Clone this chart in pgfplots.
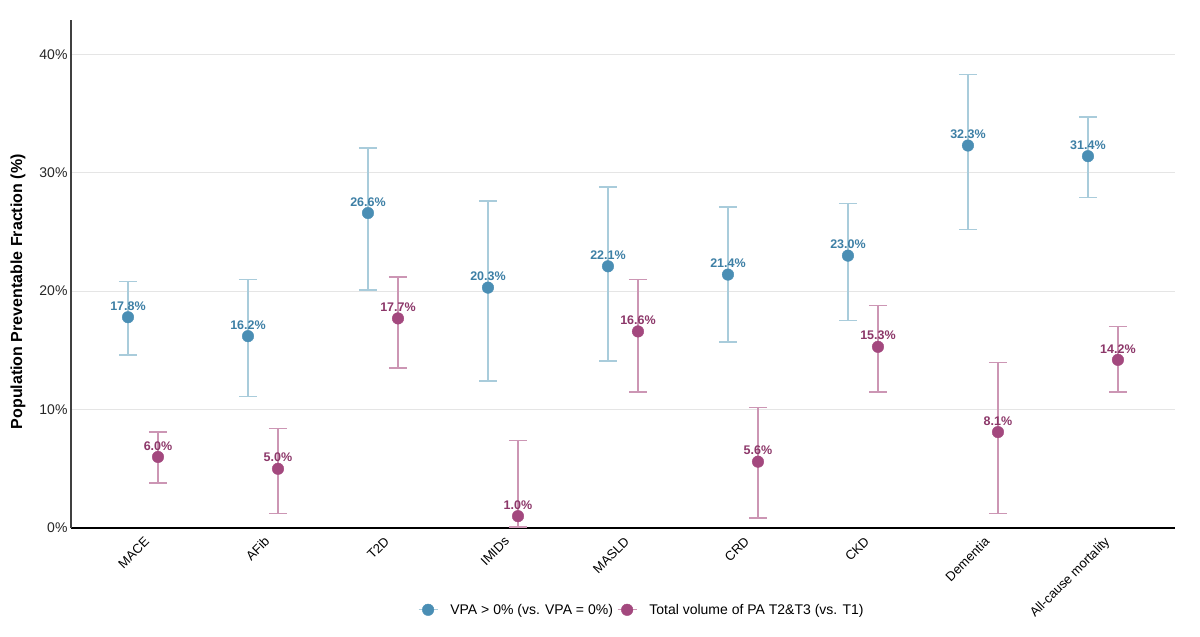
\documentclass[border=0pt]{standalone}
\usepackage{pgfplots}
\usepackage{pgfplotstable}
\pgfplotsset{compat=1.18}
\usepackage{fontspec}
\setmainfont{Liberation Sans}

\definecolor{vpa}{HTML}{4A8EB4}
\definecolor{vpabar}{HTML}{A9CCDB}
\definecolor{vpatext}{HTML}{3D7FA5}
\definecolor{tot}{HTML}{A3487E}
\definecolor{totbar}{HTML}{CC96B4}
\definecolor{tottext}{HTML}{8C3769}

% x = category index -/+ 0.125, y = PAF (%), lo/hi = 95% CI
\pgfplotstableread{
x      y     lo    hi
-0.125 17.8  14.6  20.8
0.875  16.2  11.1  21.0
1.875  26.6  20.1  32.1
2.875  20.3  12.4  27.6
3.875  22.1  14.1  28.8
4.875  21.4  15.7  27.1
5.875  23.0  17.5  27.4
6.875  32.3  25.2  38.3
7.875  31.4  27.9  34.7
}\vpatab

\pgfplotstableread{
x      y     lo    hi
0.125  6.0   3.8   8.1
1.125  5.0   1.2   8.4
2.125  17.7  13.5  21.2
3.125  1.0   0.1   7.4
4.125  16.6  11.5  21.0
5.125  5.6   0.85  10.2
6.125  15.3  11.5  18.8
7.125  8.1   1.2   14.0
8.125  14.2  11.5  17.0
}\tottab

\begin{document}
\begin{tikzpicture}
\begin{axis}[
    at={(71pt,109pt)}, anchor=south west,
    scale only axis, width=1104pt, height=508pt,
    xmin=-0.6, xmax=8.6, ymin=0, ymax=42.9,
    clip=false,
    axis x line*=bottom, axis y line*=left,
    x axis line style={draw=black, line width=1.6pt, -},
    y axis line style={draw=black!75, line width=1.6pt, -},
    major tick length=0pt,
    xtick={0,...,8},
    xticklabels={MACE,AFib,T2D,IMIDs,MASLD,CRD,CKD,Dementia,All-cause mortality},
    xticklabel style={rotate=45, anchor=north east, font=\fontsize{13}{15}\selectfont, inner sep=2pt, yshift=-4pt, xshift=-3pt},
    ytick={0,10,20,30,40},
    yticklabel={\pgfmathprintnumber{\tick}\%},
    yticklabel style={font=\fontsize{14}{16}\selectfont, text=black!85},
    /pgf/number format/assume math mode=true,
    ymajorgrids,
    grid style={draw=black!10, line width=0.8pt},
    ylabel={Population Preventable Fraction (\%)},
    every axis y label/.style={at={(rel axis cs:0,0.465)}, xshift=-53pt, rotate=90, anchor=center,
        font=\bfseries\fontsize{16}{18}\selectfont},
    legend style={at={(0.517,-0.161)}, anchor=center, draw=none,
        font=\fontsize{14}{16}\selectfont,
        /tikz/every odd column/.append style={column sep=10pt},
        /tikz/every even column/.append style={column sep=2pt}},
    legend columns=2,
    legend cell align=left,
]
\addplot[only marks, mark=*, mark size=5.8pt, mark options={draw=vpa, fill=vpa},
    legend image code/.code={
        \draw[vpabar, line width=1.4pt] (0pt,0pt) -- (19pt,0pt);
        \fill[vpa] (9.5pt,0pt) circle (5.8pt);},
    error bars/.cd, y dir=both, y explicit,
    error bar style={draw=vpabar, line width=1.4pt},
    error mark options={draw=vpabar, line width=1.4pt, mark size=9pt, rotate=90}]
    table[x=x, y=y, y error plus expr=\thisrow{hi}-\thisrow{y}, y error minus expr=\thisrow{y}-\thisrow{lo}] {\vpatab};
\addplot[only marks, mark=none, forget plot,
    nodes near coords={\pgfmathprintnumber[fixed,fixed zerofill,precision=1]{\pgfplotspointmeta}\%},
    nodes near coords style={font=\bfseries\fontsize{12.5}{14}\selectfont, text=vpatext, anchor=south, inner sep=0pt, yshift=6.5pt}]
    table[x=x, y=y] {\vpatab};

\addplot[only marks, mark=*, mark size=5.8pt, mark options={draw=tot, fill=tot},
    legend image code/.code={
        \draw[totbar, line width=1.4pt] (0pt,0pt) -- (19pt,0pt);
        \fill[tot] (9.5pt,0pt) circle (5.8pt);},
    error bars/.cd, y dir=both, y explicit,
    error bar style={draw=totbar, line width=1.4pt},
    error mark options={draw=totbar, line width=1.4pt, mark size=9pt, rotate=90}]
    table[x=x, y=y, y error plus expr=\thisrow{hi}-\thisrow{y}, y error minus expr=\thisrow{y}-\thisrow{lo}] {\tottab};
\addplot[only marks, mark=none, forget plot,
    nodes near coords={\pgfmathprintnumber[fixed,fixed zerofill,precision=1]{\pgfplotspointmeta}\%},
    nodes near coords style={font=\bfseries\fontsize{12.5}{14}\selectfont, text=tottext, anchor=south, inner sep=0pt, yshift=6.5pt}]
    table[x=x, y=y] {\tottab};

\legend{VPA > 0\% (vs. VPA = 0\%), Total volume of PA T2\&T3 (vs. T1)}
\end{axis}
\pgfresetboundingbox
\path (0,0) rectangle (1200pt,637pt);
\end{tikzpicture}
\end{document}
